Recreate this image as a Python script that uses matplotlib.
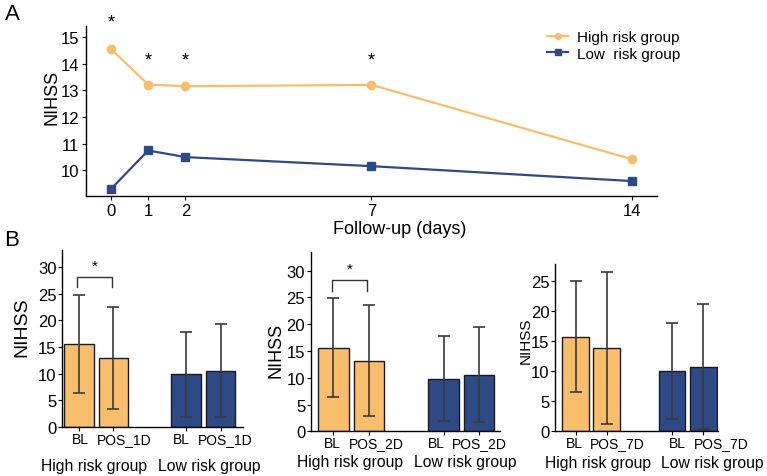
import matplotlib
matplotlib.use('Agg')
import matplotlib.pyplot as plt
from matplotlib.transforms import ScaledTranslation

plt.rcParams.update({'font.family': ['Liberation Sans', 'DejaVu Sans'], 'font.size': 11,
                     'axes.linewidth': 1.0, 'xtick.major.size': 3, 'ytick.major.size': 3})
ORANGE = '#F9BE6C'
NAVY = '#2E4A86'
ERR = '#3A3A3A'

# Panel A: mean NIHSS over follow-up
days = [0, 1, 2, 7, 14]
high_mean = [14.55, 13.21, 13.15, 13.2, 10.41]
low_mean = [9.29, 10.74, 10.49, 10.15, 9.59]
star_days = [0, 1, 2, 7]
star_y = [15.55, 14.14, 14.14, 14.14]

# Panel B: bar charts (BL vs POS) for each follow-up point
bar_labels = [['BL', 'POS_1D', 'BL', 'POS_1D'],
              ['BL', 'POS_2D', 'BL', 'POS_2D'],
              ['BL', 'POS_7D', 'BL', 'POS_7D']]
bar_means = [[15.6, 12.9, 9.9, 10.55],
             [15.6, 13.2, 9.85, 10.6],
             [15.7, 13.75, 9.9, 10.7]]
bar_sd = [[9.15, 9.6, 7.95, 8.7],
          [9.25, 10.4, 7.95, 8.95],
          [9.3, 12.7, 8.0, 10.4]]
sig_pair = [True, True, False]
bar_pos = [0, 1, 3.1, 4.1]
bar_colors = [ORANGE, ORANGE, NAVY, NAVY]
# labels sit a little off the bar centres in the original (pixels)
label_shift = [[1.5, 10.5, -4.5, 4.5],
               [-1.5, 7, -7.5, 0.5],
               [-1.5, 11, 5, 18]]

fig = plt.figure(figsize=(7.67, 4.77), dpi=100)

# ---- A
ax = fig.add_axes([0.1121, 0.587, 0.7445, 0.3564])
ax.plot(days, high_mean, color=ORANGE, lw=1.6, marker='o', ms=6, label='High risk group')
ax.plot(days, low_mean, color=NAVY, lw=1.6, marker='s', ms=5.5, label='Low  risk group')
for d, y in zip(star_days, star_y):
    ax.text(d, y, '*', ha='center', va='center', fontsize=13, clip_on=False)
ax.set_xlim(-0.67, 14.67)
ax.set_ylim(9.03, 15.41)
ax.set_xticks(days)
ax.set_yticks([10, 11, 12, 13, 14, 15])
ax.tick_params(labelsize=12, pad=2)
ax.set_ylabel('NIHSS', fontsize=13)
ax.yaxis.set_label_coords(-0.044, 0.588)
ax.spines[['top', 'right']].set_visible(False)
ax.legend(frameon=False, loc='upper left', bbox_to_anchor=(0.783, 1.055), fontsize=11,
          handlelength=1.4, handletextpad=0.6, labelspacing=0.15, markerscale=0.7)
fig.text(400 / 767, 1 - 229 / 477, 'Follow-up (days)', ha='center', va='center', fontsize=13)
fig.text(0.006, 0.97, 'A', fontsize=16, va='center')
fig.text(0.006, 0.495, 'B', fontsize=16, va='center')

# ---- B
rects = [[0.0808, 0.1027, 0.236, 0.3711],
         [0.4051, 0.0937, 0.2468, 0.3759],
         [0.7236, 0.0950, 0.2125, 0.3494]]
xlims = [(-0.49, 4.75), (-0.64, 4.69), (-0.66, 4.57)]
ylims = [33.2, 33.5, 27.8]
yticks = [range(0, 31, 5), range(0, 31, 5), range(0, 26, 5)]
ylab_size = [14, 13, 11]
ylab_xy = [(-0.177, 0.57), (-0.136, 0.455), (-0.135, 0.547)]
grp_x = [(0.45, 3.77), (0.48, 3.70), (0.73, 4.39)]
grp_y = [-0.22, -0.171, -0.188]

for i in range(3):
    ax = fig.add_axes(rects[i])
    ax.bar(bar_pos, bar_means[i], width=0.85, color=bar_colors, edgecolor='#1a1a1a', lw=1.0,
           yerr=bar_sd[i], error_kw=dict(ecolor=ERR, elinewidth=1.2, capsize=4.5, capthick=1.2))
    ax.set_xlim(*xlims[i])
    ax.set_ylim(0, ylims[i])
    ax.set_yticks(list(yticks[i]))
    ax.set_xticks(bar_pos)
    ax.set_xticklabels([])
    tr = ax.get_xaxis_transform()
    for x, lab, dx in zip(bar_pos, bar_labels[i], label_shift[i]):
        ax.text(x, 0, lab, fontsize=10, ha='center', va='top',
                transform=tr + ScaledTranslation(dx / 100, -0.05, fig.dpi_scale_trans))
    ax.tick_params(axis='y', labelsize=12, pad=1)
    ax.set_ylabel('NIHSS', fontsize=ylab_size[i])
    ax.yaxis.set_label_coords(*ylab_xy[i])
    ax.spines[['top', 'right']].set_visible(False)
    ax.text(grp_x[i][0], grp_y[i], 'High risk group', transform=tr, ha='center', va='center', fontsize=11.3)
    ax.text(grp_x[i][1], grp_y[i], 'Low risk group', transform=tr, ha='center', va='center', fontsize=11.3)
    if sig_pair[i]:
        ax.plot([-0.05, -0.05, 0.95, 0.95], [26.2, 28.2, 28.2, 26.2], color='#333333', lw=1.0)
        ax.text(0.45, 30.3, '*', ha='center', va='center', fontsize=11)

fig.savefig('out.png', dpi=100)
